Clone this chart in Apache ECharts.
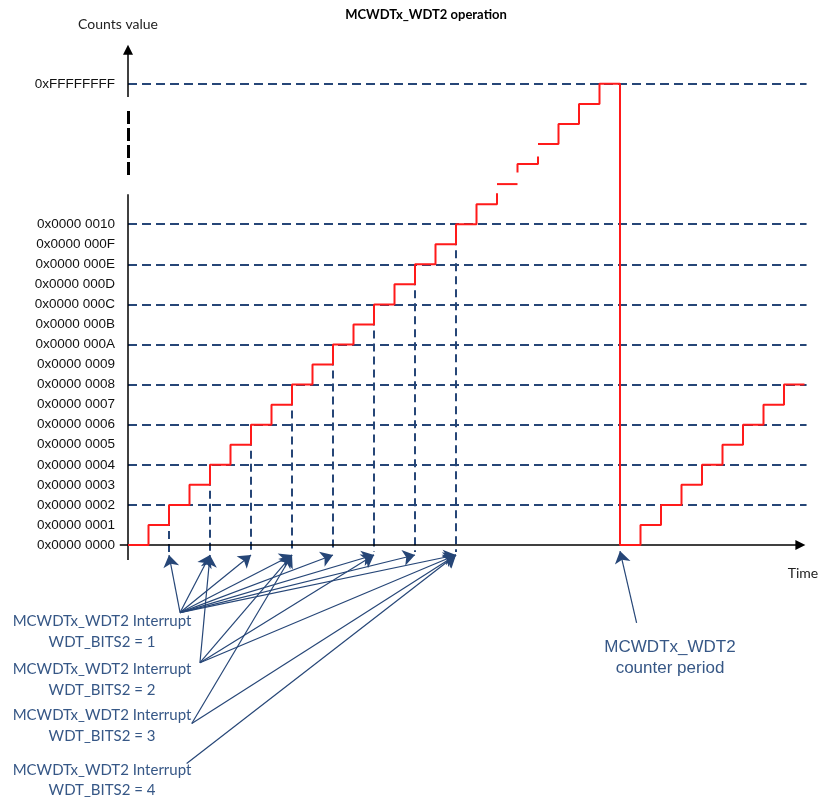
<!DOCTYPE html>
<html>
<head>
<meta charset="utf-8">
<title>MCWDTx_WDT2 operation</title>
<script src="https://cdn.jsdelivr.net/npm/echarts@6/dist/echarts.min.js"></script>
<style>
  html, body { margin: 0; padding: 0; background: #fff; }
  #chart { width: 821px; height: 799px; }
</style>
</head>
<body>
<div id="chart"></div>
<script>
// y axis: counter level -> label text
const levelLabels = [
  '0x0000 0000', '0x0000 0001', '0x0000 0002', '0x0000 0003',
  '0x0000 0004', '0x0000 0005', '0x0000 0006', '0x0000 0007',
  '0x0000 0008', '0x0000 0009', '0x0000 000A', '0x0000 000B',
  '0x0000 000C', '0x0000 000D', '0x0000 000E', '0x0000 000F',
  '0x0000 0010',
]
const maxLevel = 23 // 0xFFFFFFFF sits above the axis break
const maxLabel = '0xFFFFFFFF'

// counter value held during each clock tick
const rampCounts = [0, 1, 2, 3, 4, 5, 6, 7, 8, 9, 10, 11, 12, 13, 14, 15, 16, 17] // ticks 0..17
const topCounts = [20, 21, 22, 23] // ticks 20..23
const wrapCounts = [0, 1, 2, 3, 4, 5, 6, 7, 8] // ticks 24..32, after the wrap

// dashed guide levels
const guideLevels = [2, 4, 6, 8, 10, 12, 14, 16, 23]

// interrupt ticks for WDT_BITS2 = 1..4
const interruptTicks = [
  [2, 4, 6, 8, 10, 12, 14, 16],
  [4, 8, 12, 16],
  [8, 16],
  [16],
]
const periodTick = 24

const noteText = ['WDT_BITS2 = 1', 'WDT_BITS2 = 2', 'WDT_BITS2 = 3', 'WDT_BITS2 = 4']

function stairs(t0, counts) {
  const pts = []
  counts.forEach((c, i) => {
    pts.push([t0 + i, c], [t0 + i + 1, c])
  })
  return pts
}

const navy = '#264677'
const noteBlue = '#365786'
const red = '#ff1a1a'

// red counter trace, with the "..." gaps near the break
const redSegments = [
  stairs(0, rampCounts).concat([[18, 17.54]]),
  stairs(18, [18]),
  [[19, 18.58]].concat(stairs(19, [19]), [[20, 19.38]]),
  stairs(20, topCounts.concat(wrapCounts)),
]

// arrow start points for each note (tick, level)
const noteAnchors = [[2.54, -3.37], [3.51, -5.87], [3.11, -8.9], [2.86, -10.9]]

const arrowData = []
interruptTicks.forEach((ticks, g) => {
  ticks.forEach(t => {
    arrowData.push({ coords: [noteAnchors[g], [t, -0.5]] })
  })
})
arrowData.push({ coords: [[24.81, -3.88], [periodTick, -0.3]] })

const chart = echarts.init(document.getElementById('chart'))

const series = []
redSegments.forEach(seg => {
  series.push({
    type: 'line',
    data: seg,
    showSymbol: false,
    clip: false,
    lineStyle: { color: red, width: 2 },
    z: 5,
  })
})

series.push(
  {
    // horizontal guides
    type: 'lines',
    coordinateSystem: 'cartesian2d',
    clip: false,
    lineStyle: { color: navy, width: 2, type: [9, 5], opacity: 1 },
    data: guideLevels.map(v => ({ coords: [[0, v], [33.1, v]] })),
    z: 2,
  },
  {
    // vertical guides from the interrupt steps
    type: 'lines',
    coordinateSystem: 'cartesian2d',
    clip: false,
    lineStyle: { color: navy, width: 2, type: [8, 5], opacity: 1 },
    data: interruptTicks[0].map(t => ({ coords: [[t, t], [t, -0.35]] })),
    z: 2,
  },
  {
    // annotation arrows
    type: 'lines',
    coordinateSystem: 'cartesian2d',
    clip: false,
    symbol: ['none', 'arrow'],
    symbolSize: [10, 12],
    lineStyle: { color: navy, width: 1.2, opacity: 1 },
    data: arrowData,
    z: 3,
  },
  {
    // axes
    type: 'lines',
    coordinateSystem: 'cartesian2d',
    clip: false,
    symbol: ['none', 'triangle'],
    symbolSize: [10, 10],
    lineStyle: { color: '#000', width: 1.5, opacity: 1 },
    data: [
      { coords: [[-0.4, 0], [32.8, 0]] },
      { coords: [[0, 22.35], [0, 24.7]] },
    ],
    z: 4,
  },
  {
    type: 'lines',
    coordinateSystem: 'cartesian2d',
    clip: false,
    lineStyle: { color: '#000', width: 1.5, opacity: 1 },
    data: [{ coords: [[0, -0.75], [0, 17.5]] }],
    z: 4,
  },
  {
    type: 'lines',
    coordinateSystem: 'cartesian2d',
    clip: false,
    lineStyle: { color: '#000', width: 3, type: [13, 4], opacity: 1 },
    data: [{ coords: [[0, 21.65], [0, 18.4]] }],
    z: 4,
  }
)

const graphic = [
  { type: 'text', x: 426, y: 15, style: { text: 'MCWDTx_WDT2 operation', font: 'bold 13px Lato', fill: '#000', align: 'center', verticalAlign: 'middle' } },
  { type: 'text', x: 118, y: 24, style: { text: 'Counts value', font: '14px Lato', fill: '#222', align: 'center', verticalAlign: 'middle' } },
  { type: 'text', x: 803, y: 573, style: { text: 'Time', font: '14px Lato', fill: '#222', align: 'center', verticalAlign: 'middle' } },
  { type: 'text', x: 670, y: 647, style: { text: 'MCWDTx_WDT2', font: '17px "Liberation Sans"', fill: noteBlue, align: 'center', verticalAlign: 'middle' } },
  { type: 'text', x: 670, y: 668, style: { text: 'counter period', font: '17px "Liberation Sans"', fill: noteBlue, align: 'center', verticalAlign: 'middle' } },
]
const noteRows = [[621.5, 642], [669.5, 690], [715, 736], [770, 790.5]]
noteText.forEach((t, i) => {
  graphic.push(
    { type: 'text', x: 102, y: noteRows[i][0], style: { text: 'MCWDTx_WDT2 Interrupt', font: '15px Lato', fill: noteBlue, align: 'center', verticalAlign: 'middle' } },
    { type: 'text', x: 102, y: noteRows[i][1], style: { text: t, font: '15px Lato', fill: noteBlue, align: 'center', verticalAlign: 'middle' } }
  )
})

chart.setOption({
  animation: false,
  grid: { left: 128, right: 6.25, top: 43.75, bottom: 254 },
  xAxis: { type: 'value', min: 0, max: 33.5, show: false },
  yAxis: {
    type: 'value',
    min: 0,
    max: 25,
    interval: 1,
    axisLine: { show: false, onZero: false },
    axisTick: { show: false },
    splitLine: { show: false },
    axisLabel: {
      margin: 13,
      fontFamily: 'Liberation Sans',
      fontSize: 13.5,
      color: '#111',
      formatter: v => (v === maxLevel ? maxLabel : levelLabels[v] || ''),
    },
  },
  series: series,
  graphic: graphic,
})
</script>
</body>
</html>
